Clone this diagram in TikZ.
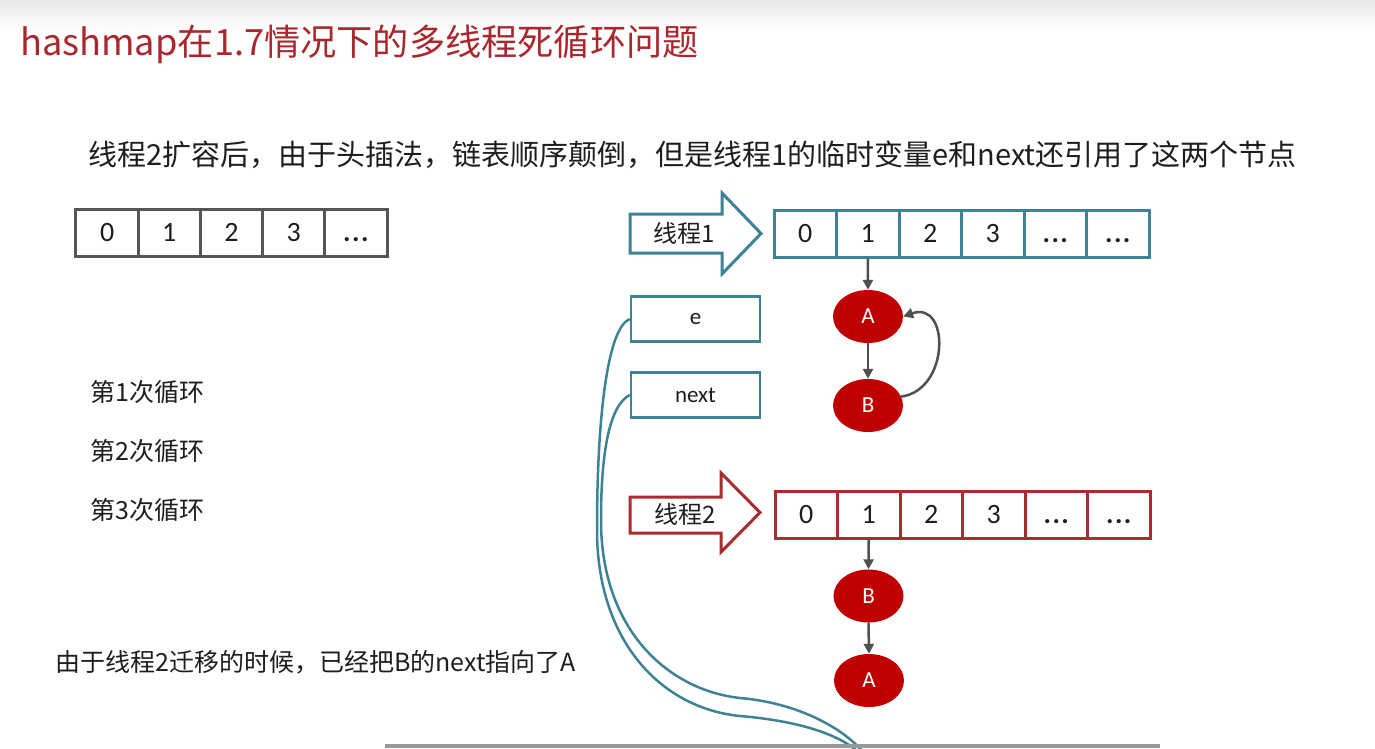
\documentclass[tikz,border=0pt]{standalone}
\usepackage{fontspec}
\setmainfont{Noto Sans CJK SC}
\newfontfamily\lat{Carlito}
\usetikzlibrary{arrows.meta,shapes.geometric}
\definecolor{tealA}{RGB}{62,130,150}
\definecolor{redA}{RGB}{168,44,48}
\definecolor{titleRed}{RGB}{170,40,45}
\definecolor{nodeRed}{RGB}{192,0,0}
\definecolor{grayA}{RGB}{85,85,85}
\definecolor{connGray}{RGB}{80,80,80}
\definecolor{txt}{RGB}{30,30,30}
\newcommand{\dotsx}{\textbf{.\kern1.5pt.\kern1.5pt.}}
\begin{document}
\begin{tikzpicture}[x=1pt,y=-1pt,
  cell/.style={rectangle,draw,line width=3pt,minimum width=62.5pt,minimum height=47pt,inner sep=0pt,
    text height=17.7pt,text depth=0pt,
    font=\lat\fontsize{28}{30}\selectfont,text=txt},
  varbox/.style={rectangle,draw=tealA,line width=2.5pt,minimum width=129pt,minimum height=45pt,inner sep=0pt,
    font=\lat\fontsize{23}{26}\selectfont,text=txt},
  listnode/.style={ellipse,fill=nodeRed,minimum width=70pt,minimum height=53pt,inner sep=0pt,
    font=\lat\fontsize{23}{25}\selectfont,text=white},
  conn/.style={draw=connGray,line width=2.5pt,-{Triangle[length=10pt,width=10pt]}},
  ref/.style={draw=tealA,line width=2.5pt},
  blockarrow/.style={line width=3pt,fill=white,line join=miter},
  label/.style={anchor=west,inner sep=0pt,text=txt,font=\fontsize{25}{28}\selectfont},
  arrowtext/.style={inner sep=0pt,text=txt,font=\fontsize{24}{26}\selectfont}
]
\useasboundingbox (0,0) rectangle (1375,748);
\clip (0,0) rectangle (1375,748);
\fill[white] (0,0) rectangle (1375,748);
\shade[top color=black!9,bottom color=white] (0,0) rectangle (1375,30);

% title and texts
\node[anchor=west,inner sep=0pt,text=titleRed,font=\fontsize{36.2}{40}\selectfont] (title) at (20,44) {hashmap在1.7情况下的多线程死循环问题};
\node[label,font=\fontsize{29}{32}\selectfont] (sub) at (88,155) {线程2扩容后，由于头插法，链表顺序颠倒，但是线程1的临时变量e和next还引用了这两个节点};
\node[label] (loop1) at (90,392) {第1次循环};
\node[label] (loop2) at (90,451) {第2次循环};
\node[label] (loop3) at (90,510) {第3次循环};
\node[label] (note) at (55,662) {由于线程2迁移的时候，已经把B的next指向了A};

% left array
\foreach \i/\t in {0/0,1/1,2/2,3/3,4/\dotsx}
  \node[cell,draw=grayA] (L\i) at ({107.1+62.2*\i},233) {\t};

% thread 1
\draw[blockarrow,draw=tealA] (630,214) -- (722,214) -- (722,193) -- (761,233.5) -- (722,274) -- (722,253) -- (630,253) -- cycle;
\node[arrowtext] (th1) at (684,233) {线程1};
\foreach \i/\t in {0/0,1/1,2/2,3/3,4/\dotsx,5/\dotsx}
  \node[cell,draw=tealA] (T\i) at ({805.25+62.5*\i},233.5) {\t};

\node[listnode] (A1) at (868,316.5) {A};
\node[listnode] (B1) at (868,405.5) {B};
\draw[conn] (T1.south) -- (A1.north);
\draw[conn] (A1.south) -- (B1.north);
\draw[conn] (B1.15) .. controls (950,390) and (950,300) .. (A1.east);

\node[varbox] (e) at (695.5,319) {e};
\node[varbox] (next) at (695.5,395) {next};

% thread 2
\draw[blockarrow,draw=redA] (630,497) -- (721,497) -- (721,473) -- (760,512.5) -- (721,552) -- (721,533) -- (630,533) -- cycle;
\node[arrowtext] (th2) at (685,514) {线程2};
\foreach \i/\t in {0/0,1/1,2/2,3/3,4/\dotsx,5/\dotsx}
  \node[cell,draw=redA] (S\i) at ({806.25+62.5*\i},514.5) {\t};

\node[listnode] (B2) at (868.5,596) {B};
\node[listnode] (A2) at (869,680.5) {A};
\draw[conn] (S1.south) -- (B2.north);
\draw[conn] (B2.south) -- (A2.north);

% references from e and next
\coordinate (eEnd) at (858,752);
\coordinate (nEnd) at (863,752);
\draw[ref] (e.west) .. controls (607,328) and (597,420) .. (597,530)
  .. controls (597,640) and (660,708) .. (740,716)
  .. controls (800,721) and (840,735) .. (eEnd);
\draw[ref] (next.west) .. controls (610,405) and (601,450) .. (601,520)
  .. controls (601,630) and (668,690) .. (740,698)
  .. controls (800,703) and (845,730) .. (nEnd);

% bottom bar
\fill[black!40] (385,744) rectangle (1160,748);
\end{tikzpicture}
\end{document}
